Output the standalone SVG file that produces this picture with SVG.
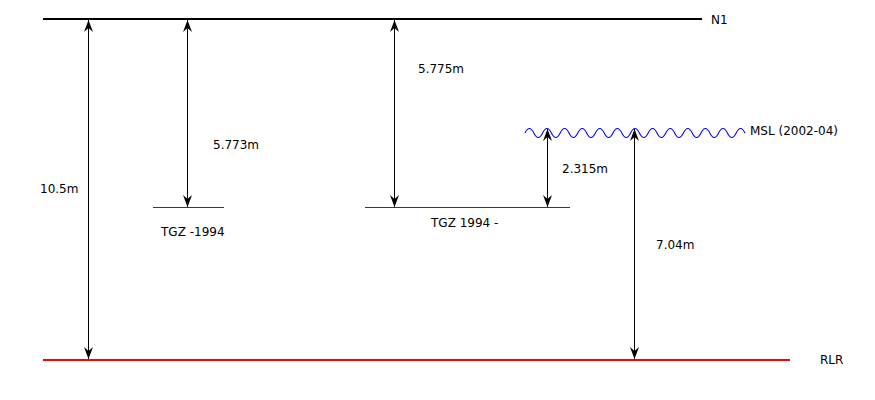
<svg xmlns="http://www.w3.org/2000/svg" width="875" height="400" viewBox="0 0 875 400">
  <style>
    text { font-family: "DejaVu Sans", "Liberation Sans", sans-serif; font-size: 12px; fill: #000; }
    .dim { stroke: #000; stroke-width: 1; fill: none; marker-start: url(#ah); marker-end: url(#ah); }
    .tgz { stroke: #c00000; stroke-width: 1; fill: none; }
  </style>
  <defs>
    <marker id="ah" viewBox="-13 -5 14 10" markerWidth="14" markerHeight="10" refX="0" refY="0" orient="auto-start-reverse" markerUnits="userSpaceOnUse">
      <path d="M0,0 L-12,-4.5 L-8,0 L-12,4.5 Z" fill="#000"/>
    </marker>
  </defs>
  <rect width="875" height="400" fill="#fff"/>

  <g id="N1">
    <line x1="43" y1="19" x2="702" y2="19" stroke="#000" stroke-width="2"/>
    <text x="711" y="24">N1</text>
  </g>
  <g id="RLR">
    <line x1="43" y1="360" x2="790" y2="360" stroke="#ff0000" stroke-width="2"/>
    <text x="820" y="364">RLR</text>
  </g>
  <g id="TGZ-old">
    <line class="tgz" x1="153" y1="207.5" x2="224" y2="207.5"/>
    <text x="161" y="236">TGZ -1994</text>
  </g>
  <g id="TGZ-new">
    <line class="tgz" x1="365" y1="207.5" x2="570" y2="207.5"/>
    <text x="431" y="227">TGZ 1994 -</text>
  </g>
  <g id="MSL">
    <path d="M525,133 q4.4,-9 8.8,0 t8.8,0 t8.8,0 t8.8,0 t8.8,0 t8.8,0 t8.8,0 t8.8,0 t8.8,0 t8.8,0 t8.8,0 t8.8,0 t8.8,0 t8.8,0 t8.8,0 t8.8,0 t8.8,0 t8.8,0 t8.8,0 t8.8,0 t8.8,0 t8.8,0 t8.8,0 t8.8,0 t8.8,0" stroke="#0000ff" stroke-width="1.1" fill="none"/>
    <text x="750" y="135">MSL (2002-04)</text>
  </g>

  <g id="connectors">
    <line class="dim" x1="88.5" y1="20" x2="88.5" y2="359"/>
    <line class="dim" x1="187.5" y1="20" x2="187.5" y2="207"/>
    <line class="dim" x1="394.5" y1="20" x2="394.5" y2="207"/>
    <line class="dim" x1="547.5" y1="129" x2="547.5" y2="207"/>
    <line class="dim" x1="634.5" y1="129" x2="634.5" y2="359"/>
  </g>

  <g id="labels">
    <text x="40" y="193">10.5m</text>
    <text x="213" y="149">5.773m</text>
    <text x="418" y="73">5.775m</text>
    <text x="562" y="173">2.315m</text>
    <text x="656" y="249">7.04m</text>
  </g>
</svg>
